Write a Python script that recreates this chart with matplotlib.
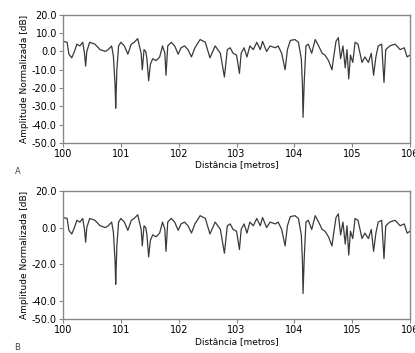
import matplotlib
matplotlib.use("Agg")
import matplotlib.pyplot as plt

plt.rcParams['font.family'] = ['Liberation Sans Narrow', 'DejaVu Sans']

# distance (m) and normalised amplitude (dB)
dist = [100.00, 100.07, 100.10, 100.15, 100.19, 100.24, 100.29, 100.34, 100.37, 100.39,
        100.41, 100.46, 100.55, 100.64, 100.73, 100.78, 100.84, 100.87, 100.90, 100.91,
        100.93, 100.96, 101.00, 101.06, 101.12, 101.18, 101.23, 101.29, 101.35, 101.37,
        101.40, 101.43, 101.45, 101.48, 101.51, 101.55, 101.61, 101.67, 101.72, 101.76,
        101.78, 101.81, 101.87, 101.93, 101.99, 102.04, 102.10, 102.16, 102.22, 102.28,
        102.37, 102.46, 102.54, 102.63, 102.72, 102.79, 102.84, 102.89, 102.94, 103.00,
        103.05, 103.08, 103.13, 103.18, 103.23, 103.29, 103.35, 103.41, 103.45, 103.52,
        103.58, 103.67, 103.72, 103.78, 103.84, 103.88, 103.93, 104.01, 104.07, 104.12,
        104.14, 104.15, 104.17, 104.20, 104.24, 104.30, 104.36, 104.42, 104.48, 104.53,
        104.59, 104.65, 104.68, 104.72, 104.76, 104.80, 104.84, 104.88, 104.91, 104.94,
        104.97, 105.01, 105.05, 105.10, 105.17, 105.22, 105.28, 105.33, 105.37, 105.41,
        105.45, 105.51, 105.55, 105.58, 105.65, 105.74, 105.83, 105.90, 105.95, 106.00]
amp = [5.5, 5.0, -1.5, -3.5, -0.5, 4.0, 3.0, 5.0, -1.0, -8.0,
       0.0, 5.0, 4.0, 1.0, 0.0, 1.0, 3.0, -2.5, -19.0, -31.0,
       -10.0, 3.0, 5.0, 3.0, -1.5, 4.0, 5.0, 7.0, -1.0, -10.0,
       1.0, 0.0, -4.0, -16.0, -7.0, -4.0, -5.0, -3.0, 3.0, -1.0,
       -13.0, 3.0, 5.0, 3.0, -1.5, 2.0, 3.0, 1.0, -3.0, 2.0,
       6.5, 5.0, -3.5, 3.0, -1.0, -14.0, 1.0, 2.0, -1.0, -2.0,
       -12.0, -1.0, 2.0, -3.0, 3.0, 1.0, 5.0, 1.0, 5.5, 0.0,
       3.0, 2.0, 3.0, -1.0, -10.0, 1.0, 6.0, 6.5, 5.0, -4.0,
       -19.0, -36.0, -17.0, 3.0, 4.0, -1.0, 6.5, 3.0, -1.0, -2.0,
       -5.0, -10.0, -3.0, 5.5, 7.5, -4.0, 3.0, -9.0, 1.0, -15.0,
       -2.0, -6.0, 5.0, 4.0, -6.0, -3.0, -6.0, -1.0, -13.0, -3.0,
       3.0, 4.0, -17.0, 1.0, 3.0, 4.0, 1.0, 2.0, -3.0, -2.0]

ticks_a = [20, 10, 0, -10, -20, -30, -40, -50]
ticks_b = [20, 0, -20, -40, -50]
xticks = [100, 101, 102, 103, 104, 105, 106]

fig = plt.figure(figsize=(4.15, 3.53), dpi=100)
ax1 = fig.add_axes([0.152, 0.595, 0.836, 0.363])
ax2 = fig.add_axes([0.152, 0.096, 0.836, 0.363])

for ax, yt, lab in [(ax1, ticks_a, 'A'), (ax2, ticks_b, 'B')]:
    ax.plot(dist, amp, color='#3a3a3a', lw=0.9)
    ax.set_xlim(100, 106)
    ax.set_ylim(-50, 20)
    ax.set_yticks(yt)
    ax.set_yticklabels(['%.1f' % v for v in yt])
    ax.set_xticks(xticks)
    ax.tick_params(labelsize=7, length=3, color='#888888', pad=1.5)
    for s in ax.spines.values():
        s.set_color('#888888')
        s.set_linewidth(1.0)
    ax.set_xlabel('Distância [metros]', fontsize=6.5, labelpad=1)
    ax.set_ylabel('Amplitude Normalizada [dB]', fontsize=6.5, labelpad=2)
    ax.text(-0.14, -0.24, lab, transform=ax.transAxes, fontsize=6, color='#444444')

fig.savefig('out.png', dpi=100)
